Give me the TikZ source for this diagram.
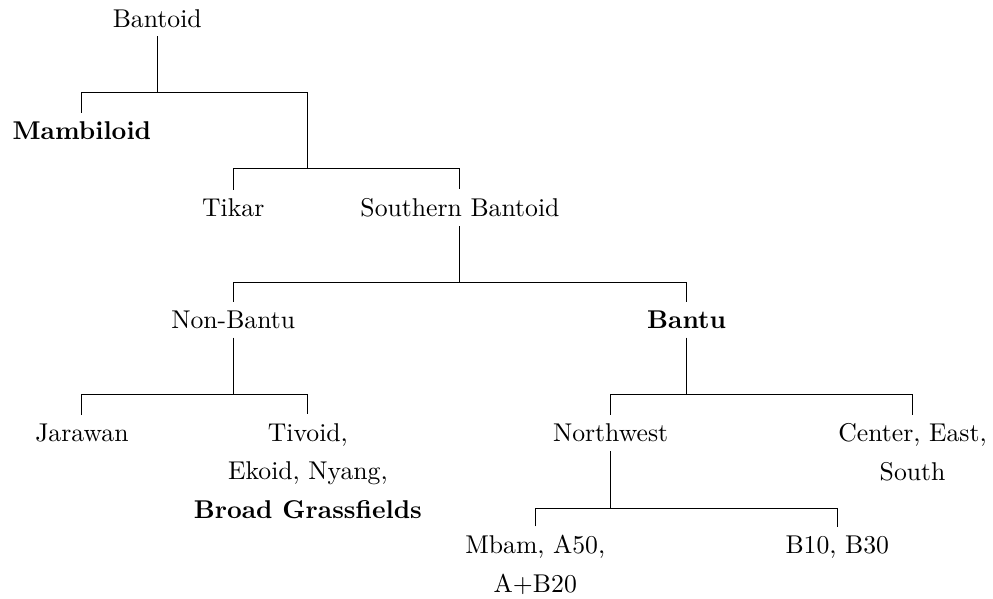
\documentclass[tikz,border=0pt]{standalone}
\usepackage{amsmath}

\begin{document}
\begin{tikzpicture}[lang/.style={anchor=base,align=center}]

% frame
\useasboundingbox (0,0) rectangle (13.58,-8.19);

%% levels
% top
\node [lang] (bantoid) at (02.15,-0.37) {Bantoid};
\node [lang] (mambiloid) at (01.12,-1.91) {\textbf{Mambiloid}};
\node [lang] (tikar) at (03.19,-2.96) {Tikar};
\node [lang] (southern) at (06.29,-2.96) {Southern Bantoid};
% middle
\node [lang] (nonbantu) at (03.19,-4.49) {Non-Bantu};
\node [lang] (bantu) at (09.39,-4.49) {\textbf{Bantu}};
% bottom (base of multi-line nodes = last line)
\node [lang] (jarawan) at (01.12,-6.04) {Jarawan};
\node [lang] (tivoid) at (04.21,-7.09) {Tivoid,\\[3pt] Ekoid, Nyang,\\[3pt] \textbf{Broad Grassfields}};
\node [lang] (northwest) at (08.35,-6.04) {Northwest};
\node [lang] (center) at (12.48,-6.57) {Center, East,\\[3pt] South};
\node [lang] (mbam) at (07.32,-8.10) {Mbam, A50,\\[3pt] A+B20};
\node [lang] (b10) at (11.45,-7.57) {B10, B30};

%% branch points
\coordinate (b1) at (02.15,-1.27);
\coordinate (b2) at (04.21,-2.30);
\coordinate (b3) at (06.29,-3.86);
\coordinate (b4) at (03.19,-5.40);
\coordinate (b5) at (09.39,-5.40);
\coordinate (b6) at (08.35,-6.96);

%% edges
\draw (bantoid.south) -- (b1);
\draw (mambiloid.north) |- (b1) -| (b2);
\draw (tikar.north) |- (b2) -| (southern.north);
\draw (southern.south) -- (b3);
\draw (nonbantu.north) |- (b3) -| (bantu.north);
\draw (nonbantu.south) -- (b4);
\draw (jarawan.north) |- (b4) -| (tivoid.north);
\draw (bantu.south) -- (b5);
\draw (northwest.north) |- (b5) -| (center.north);
\draw (northwest.south) -- (b6);
\draw (mbam.north) |- (b6) -| (b10.north);

\end{tikzpicture}
\end{document}
